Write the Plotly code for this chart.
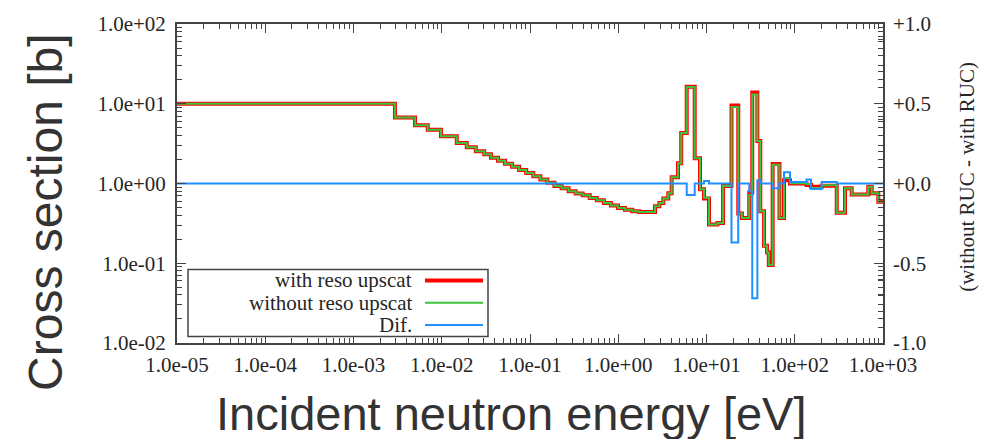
import plotly.graph_objects as go

# ---------------- data ----------------
# left edges of the energy groups [eV]; last group ends at energy_max
energy_edges = [
    1.0e-5, 2.95e-3, 4.98e-3, 6.94e-3, 9.8e-3, 1.48e-2, 1.92e-2, 2.43e-2, 3.03e-2, 3.61e-2,
    4.34e-2, 5.21e-2, 6.27e-2, 7.53e-2, 9.06e-2, 0.109, 0.131, 0.157, 0.189, 0.228,
    0.274, 0.329, 0.395, 0.475, 0.571, 0.687, 0.826, 0.993, 1.19, 1.44,
    1.73, 2.61, 2.92, 3.24, 3.69, 4.03, 4.75, 5.17, 5.97, 7.35,
    8.44, 9.37, 10.67, 13.3, 15.4, 19.2, 22.9, 25.2, 30.5, 33.0,
    37.7, 40.7, 44.9, 48.5, 50.8, 56.2, 67.1, 75.5, 88.3, 136.0,
    153.0, 202.0, 299.0, 371.0, 442.0, 681.0, 745.0, 885.0,
]
energy_max = 1.0e3

xs_with = [
    10.0, 6.7, 5.38, 4.72, 3.9, 3.22, 2.85, 2.54, 2.32, 2.10,
    1.93, 1.77, 1.62, 1.48, 1.35, 1.23, 1.12, 1.02, 0.93, 0.87,
    0.80, 0.75, 0.71, 0.66, 0.615, 0.57, 0.53, 0.494, 0.467, 0.45,
    0.44, 0.52, 0.57, 0.65, 0.755, 1.2, 1.8, 4.3, 16.3, 2.08,
    0.85, 0.65, 0.307, 0.32, 0.93, 9.5, 0.42, 0.37, 0.77, 13.8,
    3.4, 0.45, 0.166, 0.137, 0.095, 1.75, 0.37, 1.10, 1.0, 0.96,
    0.91, 0.94, 0.43, 0.87, 0.73, 0.91, 0.755, 0.59,
]

xs_without = [
    10.0, 6.7, 5.38, 4.72, 3.9, 3.22, 2.85, 2.54, 2.32, 2.10,
    1.93, 1.77, 1.62, 1.48, 1.35, 1.23, 1.12, 1.02, 0.93, 0.87,
    0.80, 0.75, 0.71, 0.66, 0.615, 0.57, 0.53, 0.494, 0.467, 0.45,
    0.44, 0.52, 0.57, 0.65, 0.755, 1.2, 1.8, 4.3, 16.23, 2.08,
    0.85, 0.665, 0.307, 0.32, 0.93, 9.13, 0.42, 0.37, 0.72, 13.08,
    3.42, 0.45, 0.166, 0.137, 0.095, 1.72, 0.37, 1.17, 1.01, 0.985,
    0.875, 0.95, 0.43, 0.87, 0.73, 0.91, 0.755, 0.59,
]

xs_dif = [
    0, 0, 0, 0, 0, 0, 0, 0, 0, 0,
    0, 0, 0, 0, 0, 0, 0, 0, 0, 0,
    0, 0, 0, 0, 0, 0, 0, 0, 0, 0,
    0, 0, 0, 0, 0, 0, 0, 0, -0.072, 0,
    0, 0.015, 0, 0, 0, -0.37, 0, 0, -0.05, -0.72,
    0.02, 0, 0, 0, 0, -0.03, 0, 0.07, 0.01, 0.025,
    -0.035, 0.01, 0, 0, 0, 0, 0, 0,
]

series_names = ["with reso upscat", "without reso upscat", "Dif."]
series_colors = ["#ff0000", "#3cc43c", "#1e90ff"]

x_tick_vals = [1e-5, 1e-4, 1e-3, 1e-2, 1e-1, 1e0, 1e1, 1e2, 1e3]
x_tick_labels = ["1.0e-05", "1.0e-04", "1.0e-03", "1.0e-02", "1.0e-01",
                 "1.0e+00", "1.0e+01", "1.0e+02", "1.0e+03"]
y_tick_vals = [1e-2, 1e-1, 1e0, 1e1, 1e2]
y_tick_labels = ["1.0e-02", "1.0e-01", "1.0e+00", "1.0e+01", "1.0e+02"]
y2_tick_vals = [-1.0, -0.5, 0.0, 0.5, 1.0]
y2_tick_labels = ["-1.0", "-0.5", "+0.0", "+0.5", "+1.0"]

x_title = "Incident neutron energy [eV]"
y_title = "Cross section [b]"
y2_title = "(without RUC - with RUC)"

# ---------------- figure ----------------
xs = energy_edges + [energy_max]

fig = go.Figure()
fig.add_trace(go.Scatter(x=xs, y=xs_with + [xs_with[-1]], mode="lines", name=series_names[0],
                         line=dict(shape="hv", color=series_colors[0], width=4)))
fig.add_trace(go.Scatter(x=xs, y=xs_without + [xs_without[-1]], mode="lines", name=series_names[1],
                         line=dict(shape="hv", color=series_colors[1], width=2)))
fig.add_trace(go.Scatter(x=xs, y=xs_dif + [xs_dif[-1]], mode="lines", name=series_names[2],
                         yaxis="y2", line=dict(shape="hv", color=series_colors[2], width=2)))

axis_col = "#444444"
text_col = "#262626"
serif = "Liberation Serif"
sans = "Liberation Sans"

fig.update_layout(
    width=984, height=439,
    margin=dict(l=177, r=101, t=20, b=96),
    paper_bgcolor="white", plot_bgcolor="white",
    showlegend=False,
    xaxis=dict(type="log", range=[-5, 3], tickmode="array", tickvals=x_tick_vals, ticktext=x_tick_labels,
               ticks="inside", ticklen=9, tickwidth=1.2, tickcolor=axis_col,
               showline=True, linecolor=axis_col, linewidth=2, mirror="ticks",
               showgrid=False, zeroline=False, ticklabelstandoff=2,
               tickfont=dict(family=serif, size=21, color=text_col),
               minor=dict(ticks="inside", ticklen=5, tickwidth=1, tickcolor=axis_col, dtick="D1", showgrid=False)),
    yaxis=dict(type="log", range=[-2, 2], tickmode="array", tickvals=y_tick_vals, ticktext=y_tick_labels,
               ticks="inside", ticklen=9, tickwidth=1.2, tickcolor=axis_col,
               showline=True, linecolor=axis_col, linewidth=2, mirror="ticks",
               showgrid=False, zeroline=False, ticklabelstandoff=5,
               tickfont=dict(family=serif, size=21, color=text_col),
               minor=dict(ticks="inside", ticklen=5, tickwidth=1, tickcolor=axis_col, dtick="D1", showgrid=False)),
    yaxis2=dict(overlaying="y", side="right", range=[-1, 1], tickmode="array",
                tickvals=y2_tick_vals, ticktext=y2_tick_labels,
                ticks="inside", ticklen=9, tickwidth=1.2, tickcolor=axis_col,
                showline=False, showgrid=False, zeroline=False, ticklabelstandoff=9,
                tickfont=dict(family=serif, size=21, color=text_col),
                minor=dict(ticks="inside", ticklen=5, tickwidth=1, tickcolor=axis_col, dtick=0.1, showgrid=False)),
)

# axis titles
fig.add_annotation(text=y_title, xref="paper", yref="paper", x=-0.186, y=0.41, textangle=-90,
                   showarrow=False, xanchor="center", yanchor="middle",
                   font=dict(family=sans, size=48, color="#333333"))
fig.add_annotation(text=x_title, xref="paper", yref="paper", x=0.474, y=-0.221,
                   showarrow=False, xanchor="center", yanchor="middle",
                   font=dict(family=sans, size=47, color="#333333"))
fig.add_annotation(text=y2_title, xref="paper", yref="paper", x=1.119, y=0.521, textangle=-90,
                   showarrow=False, xanchor="center", yanchor="middle",
                   font=dict(family=serif, size=21, color=text_col))

# legend (gnuplot style: text right-aligned, sample on the right)
fig.add_shape(type="rect", xref="paper", yref="paper", x0=0.0156, x1=0.4405, y0=0.0201, y1=0.2303,
              line=dict(color=axis_col, width=1.5), fillcolor="white", layer="above")
legend_rows = [0.1963, 0.1261, 0.0563]
legend_widths = [4, 2, 2]
for name, col, yy, lw in zip(series_names, series_colors, legend_rows, legend_widths):
    fig.add_annotation(text=name, xref="paper", yref="paper", x=0.3343, y=yy, showarrow=False,
                       xanchor="right", yanchor="middle", borderpad=0,
                       font=dict(family=serif, size=21, color=text_col))
    fig.add_shape(type="line", xref="paper", yref="paper", x0=0.3513, x1=0.4334, y0=yy, y1=yy,
                  line=dict(color=col, width=lw), layer="above")

fig.write_html("out.html")
